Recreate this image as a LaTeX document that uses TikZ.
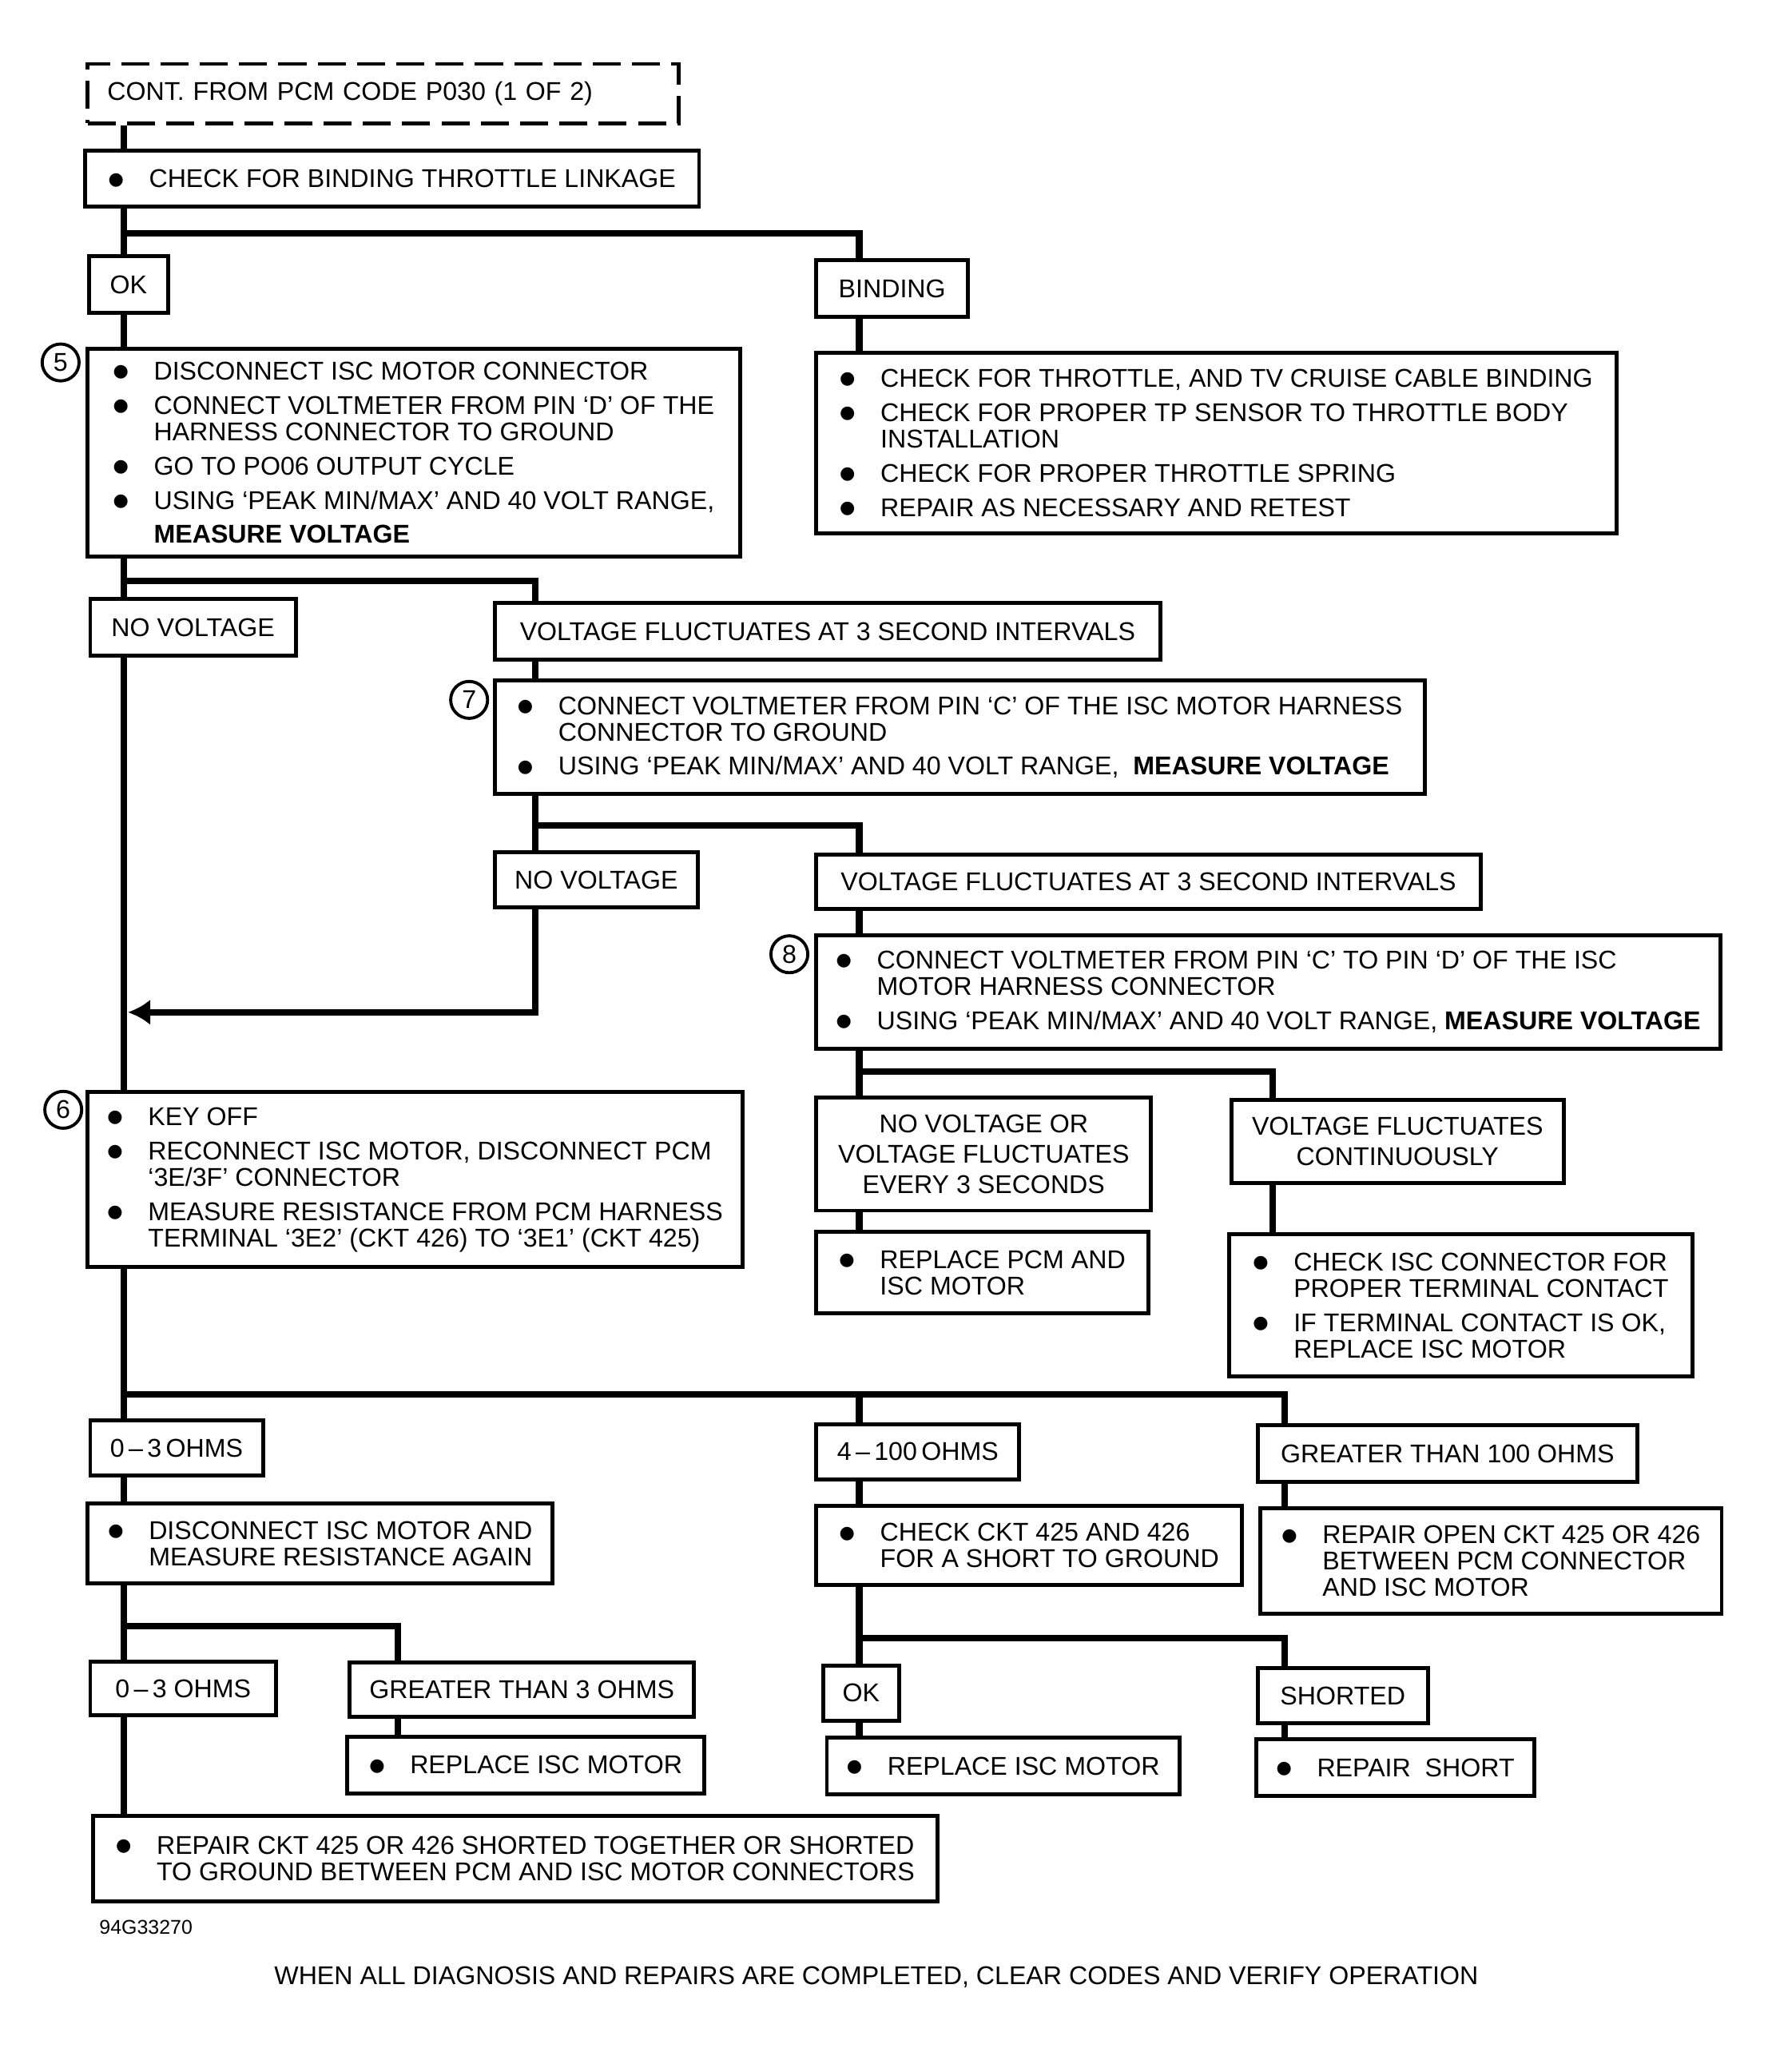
\documentclass[tikz,border=0pt]{standalone}
\usepackage{fontspec}
\setmainfont{Liberation Sans}
\newfontfamily\dotfont{DejaVu Sans}
\usetikzlibrary{arrows.meta}
\newcommand{\pxu}{0.0165cm}
\newcommand{\boxfont}{\fontsize{9.15}{9.4}\selectfont}
\newcommand{\bul}{\makebox[0.51cm][l]{\raisebox{1pt}{\dotfont\fontsize{6.3}{6.3}\selectfont ●}}}
\newcommand{\hng}{\hspace*{0.51cm}}

\begin{document}
\begin{tikzpicture}[x=\pxu,y=-\pxu,
  infobox/.style 2 args={draw,line width=1.4pt,anchor=north west,align=left,
    inner xsep=0.2475cm,inner ysep=0pt,minimum width=#1*\pxu,minimum height=#2*\pxu,font=\boxfont},
  tagbox/.style 2 args={draw,line width=1.4pt,anchor=north west,align=center,
    inner xsep=0.2cm,inner ysep=0pt,minimum width=#1*\pxu,minimum height=#2*\pxu,font=\boxfont},
  contbox/.style={draw,line width=1.4pt,dash pattern=on 10pt off 4pt,anchor=north west,
    align=left,text width=6.9cm,inner xsep=0.2475cm,inner ysep=0pt,minimum height=45*\pxu,font=\boxfont},
  numcirc/.style={draw,circle,line width=1.1pt,minimum size=28*\pxu,inner sep=0pt,font=\boxfont},
  wire/.style={line width=2.3pt}]
% ==========================================
\useasboundingbox (0,0) rectangle (22.18cm,-25.93cm);
% columns and junctions of the connectors
\coordinate (colA) at (94,0);
\coordinate (colB) at (406,0);
\coordinate (colC) at (652,0);
\coordinate (colD) at (966,0);
\coordinate (colE) at (975,0);
\coordinate (colF) at (302,0);
\coordinate (j1) at (94,177);
\coordinate (j2) at (94,441);
\coordinate (j3) at (406,626);
\coordinate (j4) at (652,813);
\coordinate (j5) at (94,1058);
\coordinate (j6) at (94,1234);
\coordinate (j7) at (652,1243);
\coordinate (arr) at (97,768);
% ==========================================
\node[contbox] (cont) at (65,47) {CONT. FROM PCM CODE P030 (1 OF 2)};
\node[infobox={466}{42}] (linkage) at (63,113) {\bul CHECK FOR BINDING THROTTLE LINKAGE};
%
\node[tagbox={60}{43}] (ok1) at (66,193) {OK};
\node[tagbox={115}{43}] (binding) at (618,196) {BINDING};
%
\node[infobox={495}{158}] (step5) at (65,263) {\bul DISCONNECT ISC MOTOR CONNECTOR\\[2.8pt]
  \bul CONNECT VOLTMETER FROM PIN ‘D’ OF THE\\ \hng HARNESS CONNECTOR TO GROUND\\[2.8pt]
  \bul GO TO PO06 OUTPUT CYCLE\\[2.8pt]
  \bul USING ‘PEAK MIN/MAX’ AND 40 VOLT RANGE,\\[2.8pt] \hng\textbf{MEASURE VOLTAGE}};
\node[numcirc] (n5) at (46,275) {5};
%
\node[infobox={607}{137}] (bindfix) at (618,266) {\bul CHECK FOR THROTTLE, AND TV CRUISE CABLE BINDING\\[2.8pt]
  \bul CHECK FOR PROPER TP SENSOR TO THROTTLE BODY\\ \hng INSTALLATION\\[2.8pt]
  \bul CHECK FOR PROPER THROTTLE SPRING\\[2.8pt]
  \bul REPAIR AS NECESSARY AND RETEST};
%
\node[tagbox={156}{43}] (novolt1) at (67,453) {NO VOLTAGE};
\node[tagbox={505}{43}] (fluct1) at (374,456) {VOLTAGE FLUCTUATES AT 3 SECOND INTERVALS};
%
\node[infobox={706}{86}] (step7) at (374,515) {\bul CONNECT VOLTMETER FROM PIN ‘C’ OF THE ISC MOTOR HARNESS\\ \hng CONNECTOR TO GROUND\\[2.8pt]
  \bul USING ‘PEAK MIN/MAX’ AND 40 VOLT RANGE,\ \ \textbf{MEASURE VOLTAGE}};
\node[numcirc] (n7) at (356,531) {7};
%
\node[tagbox={154}{42}] (novolt2) at (374,645) {NO VOLTAGE};
\node[tagbox={504}{41}] (fluct2) at (618,647) {VOLTAGE FLUCTUATES AT 3 SECOND INTERVALS};
%
\node[infobox={683}{86}] (step8) at (618,708) {\bul CONNECT VOLTMETER FROM PIN ‘C’ TO PIN ‘D’ OF THE ISC\\ \hng MOTOR HARNESS CONNECTOR\\[2.8pt]
  \bul USING ‘PEAK MIN/MAX’ AND 40 VOLT RANGE, \textbf{MEASURE VOLTAGE}};
\node[numcirc] (n8) at (599,724) {8};
%
\node[infobox={497}{133}] (step6) at (65,827) {\bul KEY OFF\\[2.8pt]
  \bul RECONNECT ISC MOTOR, DISCONNECT PCM\\ \hng ‘3E/3F’ CONNECTOR\\[2.8pt]
  \bul MEASURE RESISTANCE FROM PCM HARNESS\\ \hng TERMINAL ‘3E2’ (CKT 426) TO ‘3E1’ (CKT 425)};
\node[numcirc] (n6) at (48,842) {6};
%
\node[tagbox={254}{86}] (novoltor) at (618,831) {NO VOLTAGE OR\\[1.4pt]VOLTAGE FLUCTUATES\\[1.4pt]EVERY 3 SECONDS};
\node[tagbox={252}{63}] (fluctcont) at (933,833) {VOLTAGE FLUCTUATES\\[1.4pt]CONTINUOUSLY};
\node[infobox={252}{62}] (replpcm) at (618,933) {\bul REPLACE PCM AND\\ \hng ISC MOTOR};
\node[infobox={352}{108}] (chkconn) at (931,935) {\bul CHECK ISC CONNECTOR FOR\\ \hng PROPER TERMINAL CONTACT\\[2.8pt]
  \bul IF TERMINAL CONTACT IS OK,\\ \hng REPLACE ISC MOTOR};
%
\node[tagbox={131}{42}] (ohmlow) at (67,1076) {0\,–\,3\,OHMS};
\node[tagbox={154}{42}] (ohmmid) at (618,1079) {4\,–\,100\,OHMS};
\node[tagbox={288}{43}] (ohmhigh) at (953,1080) {GREATER THAN 100 OHMS};
%
\node[infobox={353}{61}] (discmot) at (65,1139) {\bul DISCONNECT ISC MOTOR AND\\ \hng MEASURE RESISTANCE AGAIN};
\node[infobox={323}{60}] (chkckt) at (618,1141) {\bul CHECK CKT 425 AND 426\\ \hng FOR A SHORT TO GROUND};
\node[infobox={350}{80}] (repopen) at (955,1143) {\bul REPAIR OPEN CKT 425 OR 426\\ \hng BETWEEN PCM CONNECTOR\\ \hng AND ISC MOTOR};
%
\node[tagbox={141}{41}] (ohmlow2) at (67,1259) {0\,–\,3 OHMS};
\node[tagbox={261}{41}] (ohmover3) at (264,1260) {GREATER THAN 3 OHMS};
\node[tagbox={58}{42}] (ok2) at (623,1262) {OK};
\node[tagbox={129}{42}] (shorted) at (953,1264) {SHORTED};
%
\node[infobox={271}{43}] (replisc1) at (262,1316) {\bul REPLACE ISC MOTOR};
\node[infobox={267}{43}] (replisc2) at (626,1317) {\bul REPLACE ISC MOTOR};
\node[infobox={208}{43}] (repshort) at (952,1318) {\bul REPAIR\ \ SHORT};
\node[infobox={641}{65}] (repckt) at (69,1376) {\bul REPAIR CKT 425 OR 426 SHORTED TOGETHER OR SHORTED\\ \hng TO GROUND BETWEEN PCM AND ISC MOTOR CONNECTORS};
%
\node[anchor=west,inner sep=0pt,font=\fontsize{7.1}{8}\selectfont] (figid) at (75,1462) {94G33270};
\node[inner sep=0pt,font=\boxfont] (note) at (665,1500) {WHEN ALL DIAGNOSIS AND REPAIRS ARE COMPLETED, CLEAR CODES AND VERIFY OPERATION};
% ==========================================
% connectors
\draw[wire] (cont.south -| colA) -- (linkage.north -| colA);
\draw[wire] (linkage.south -| colA) -- (ok1.north -| colA);
\draw[wire] (j1) -| (binding.north -| colC);
\draw[wire] (ok1.south -| colA) -- (step5.north -| colA);
\draw[wire] (binding.south -| colC) -- (bindfix.north -| colC);
%
\draw[wire] (step5.south -| colA) -- (novolt1.north -| colA);
\draw[wire] (j2) -| (fluct1.north -| colB);
\draw[wire] (novolt1.south -| colA) -- (step6.north -| colA);
\draw[wire] (fluct1.south -| colB) -- (step7.north -| colB);
\draw[wire] (step7.south -| colB) -- (novolt2.north -| colB);
\draw[wire] (j3) -| (fluct2.north -| colC);
\draw[wire,-{Latex[length=0.28cm,width=0.32cm]}] (novolt2.south -| colB) |- (arr);
%
\draw[wire] (fluct2.south -| colC) -- (step8.north -| colC);
\draw[wire] (step8.south -| colC) -- (novoltor.north -| colC);
\draw[wire] (j4) -| (fluctcont.north -| colD);
\draw[wire] (novoltor.south -| colC) -- (replpcm.north -| colC);
\draw[wire] (fluctcont.south -| colD) -- (chkconn.north -| colD);
%
\draw[wire] (step6.south -| colA) -- (ohmlow.north -| colA);
\draw[wire] (j5) -| (ohmhigh.north -| colE);
\draw[wire] (j5 -| colC) -- (ohmmid.north -| colC);
\draw[wire] (ohmlow.south -| colA) -- (discmot.north -| colA);
\draw[wire] (ohmmid.south -| colC) -- (chkckt.north -| colC);
\draw[wire] (ohmhigh.south -| colE) -- (repopen.north -| colE);
%
\draw[wire] (discmot.south -| colA) -- (ohmlow2.north -| colA);
\draw[wire] (j6) -| (ohmover3.north -| colF);
\draw[wire] (chkckt.south -| colC) -- (ok2.north -| colC);
\draw[wire] (j7) -| (shorted.north -| colE);
\draw[wire] (ohmlow2.south -| colA) -- (repckt.north -| colA);
\draw[wire] (ohmover3.south -| colF) -- (replisc1.north -| colF);
\draw[wire] (ok2.south -| colC) -- (replisc2.north -| colC);
\draw[wire] (shorted.south -| colE) -- (repshort.north -| colE);
% ==========================================
\end{tikzpicture}
\end{document}
